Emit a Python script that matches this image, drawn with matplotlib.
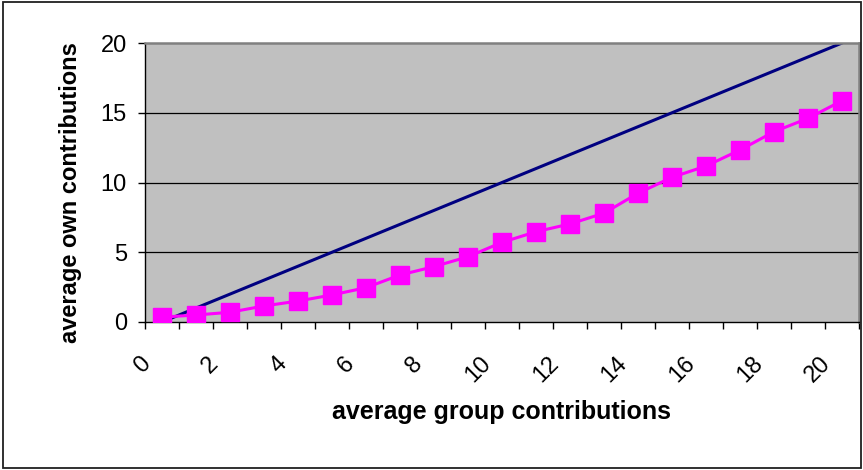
"""Own vs. group contributions, Excel-style line chart."""
import matplotlib
matplotlib.use("Agg")
import matplotlib.pyplot as plt
import matplotlib.transforms as mtransforms
from matplotlib.patches import Rectangle

plt.rcParams["font.family"] = ["Liberation Sans", "DejaVu Sans"]

# data
group_levels = list(range(21))                      # categories 0..20
own_avg = [0.35, 0.5, 0.7, 1.15, 1.5, 1.94, 2.46, 3.37, 3.97, 4.68, 5.71,
           6.47, 7.03, 7.8, 9.23, 10.37, 11.18, 12.33, 13.64, 14.6, 15.86]
diag_x = [0, 20]
diag_y = [0, 20]
x_tick_vals = list(range(0, 21, 2))
y_tick_vals = [0, 5, 10, 15, 20]

W, H, DPI = 863, 470, 100
fig = plt.figure(figsize=(W / DPI, H / DPI), dpi=DPI)
fig.patch.set_facecolor("white")

# outer chart border
fig.add_artist(Rectangle((3 / W, 2 / H), 858 / W, 466 / H, transform=fig.transFigure,
                         fill=False, edgecolor="#202020", linewidth=1.3))

left, right, top, bottom = 145, 859, 43, 322
ax = fig.add_axes([left / W, (H - bottom) / H, (right - left) / W, (bottom - top) / H])
ax.set_facecolor("#C0C0C0")

ax.set_xlim(-0.5, 20.5)
ax.set_ylim(0, 20)

for yv in y_tick_vals[1:-1]:
    ax.axhline(yv, color="black", linewidth=0.9, zorder=1)

ax.plot(diag_x, diag_y, color="#000080", linewidth=2.2, zorder=2)
ax.plot(group_levels, own_avg, color="#FF00FF", linewidth=2.2, marker="s",
        markersize=12.5, markerfacecolor="#FF00FF", markeredgecolor="#FF00FF", zorder=3)

# category boundaries get the tick marks, labels sit on category centres
ax.set_xticks([g - 0.5 for g in group_levels] + [20.5])
ax.set_xticklabels([])
ax.set_xticks(x_tick_vals, minor=True)
ax.set_xticklabels([str(v) for v in x_tick_vals], minor=True, rotation=45,
                   ha="right", va="top", fontsize=17)
ax.tick_params(axis="x", which="major", direction="out", length=5, width=1, color="black")
ax.tick_params(axis="x", which="minor", length=0, pad=22)
shift = mtransforms.ScaledTranslation(-7 / DPI, 0, fig.dpi_scale_trans)
for lbl in ax.get_xticklabels(minor=True):
    lbl.set_transform(lbl.get_transform() + shift)

ax.set_yticks(y_tick_vals)
ax.set_yticklabels([str(v) for v in y_tick_vals], fontsize=17)
ax.tick_params(axis="y", direction="out", length=5, width=1, color="black", pad=8)

for side in ("top", "right"):
    ax.spines[side].set_color("#808080")
    ax.spines[side].set_linewidth(1.8)
for side in ("left", "bottom"):
    ax.spines[side].set_color("black")
    ax.spines[side].set_linewidth(1.0)

fig.text(502 / W, 1 - 412 / H, "average group contributions", ha="center", va="center",
         fontsize=18, fontweight="bold")
fig.text(70 / W, 1 - 193 / H, "average own contributions", ha="center", va="center",
         rotation=90, fontsize=17, fontweight="bold")

fig.savefig("out.png", dpi=DPI)
